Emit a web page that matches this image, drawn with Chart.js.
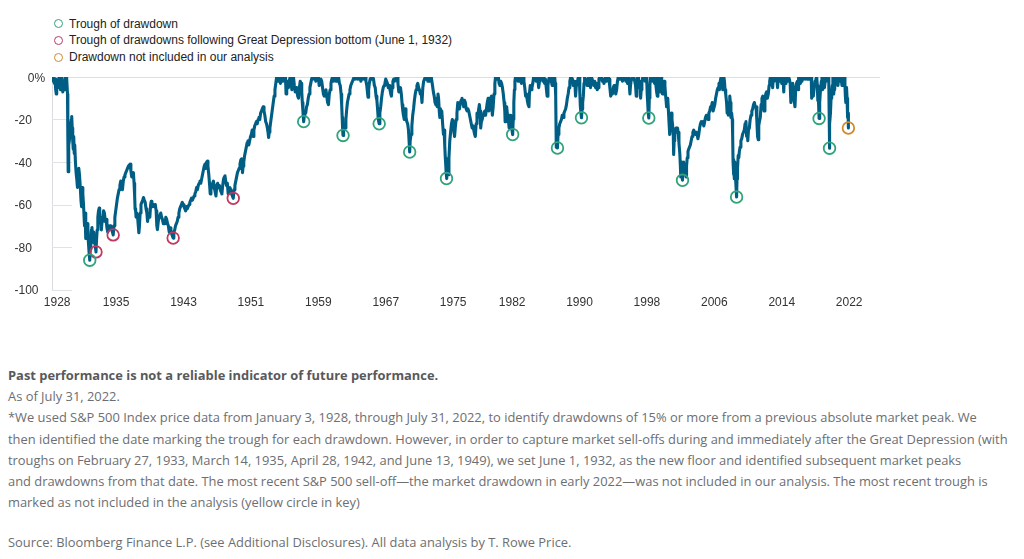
<!DOCTYPE html>
<html><head><meta charset="utf-8">
<script src="https://cdn.jsdelivr.net/npm/chart.js@4.4.1/dist/chart.umd.min.js"></script>
<style>
html,body{margin:0;padding:0;background:#fff;width:1024px;height:559px;overflow:hidden;}
#legend{position:absolute;left:54px;top:15.5px;font:12px 'Liberation Sans',Arial,sans-serif;color:#222;}
.row{height:16.8px;line-height:16.8px;display:flex;align-items:center;white-space:nowrap;}
.dot{width:7px;height:7px;border:1.7px solid;border-radius:50%;margin-right:6px;box-sizing:content-box;}
#wrap{position:absolute;left:0;top:60px;width:900px;height:260px;}
#notes{position:absolute;left:8px;top:365px;font:12.9px 'Open Sans',sans-serif;color:#6d6e71;line-height:21.2px;white-space:nowrap;}
#notes b{color:#58595b;}
#notes p{margin:0;}
#notes p.src{margin-top:19px;}
</style></head>
<body>
<div id="legend">
  <div class="row"><span class="dot" style="border-color:#2fa37c"></span>Trough of drawdown</div>
  <div class="row"><span class="dot" style="border-color:#be3a5f"></span>Trough of drawdowns following Great Depression bottom (June 1, 1932)</div>
  <div class="row"><span class="dot" style="border-color:#d08a2c"></span>Drawdown not included in our analysis</div>
</div>
<div id="wrap"><canvas id="c"></canvas></div>
<div id="notes">
<p><b>Past performance is not a reliable indicator of future performance.</b><br>
As of July 31, 2022.<br>
*We used S&amp;P 500 Index price data from January 3, 1928, through July 31, 2022, to identify drawdowns of 15% or more from a previous absolute market peak. We<br>
then identified the date marking the trough for each drawdown. However, in order to capture market sell-offs during and immediately after the Great Depression (with<br>
troughs on February 27, 1933, March 14, 1935, April 28, 1942, and June 13, 1949), we set June 1, 1932, as the new floor and identified subsequent market peaks<br>
and drawdowns from that date. The most recent S&amp;P 500 sell-off—the market drawdown in early 2022—was not included in our analysis. The most recent trough is<br>
marked as not included in the analysis (yellow circle in key)</p>
<p class="src">Source: Bloomberg Finance L.P. (see Additional Disclosures). All data analysis by T. Rowe Price.</p>
</div>
<script>
// ---- Data: S&P 500 drawdown from previous peak (%), [decimal year, value] ----
const era1928to1935 = [[1928.00,0],[1928.08,-2],[1928.15,0],[1928.22,-3],[1928.30,-1],[1928.38,-6],[1928.45,-8],[1928.50,-4],[1928.58,-2],[1928.65,-5],[1928.72,-1],[1928.80,0],[1928.88,-3],[1928.95,-6],[1929.00,-1],[1929.08,0],[1929.15,-4],[1929.22,-7],[1929.30,-3],[1929.38,-6],[1929.45,-2],[1929.52,0],[1929.60,-1],[1929.67,0],[1929.72,0],[1929.78,-8],[1929.82,-28],[1929.86,-44.6],[1929.90,-35],[1929.95,-32],[1930.00,-30],[1930.08,-26],[1930.16,-22],[1930.24,-20],[1930.28,-18.6],[1930.34,-24],[1930.40,-30],[1930.46,-34],[1930.52,-28],[1930.58,-36],[1930.64,-32],[1930.72,-40],[1930.80,-45],[1930.88,-48],[1930.96,-52],[1931.04,-46],[1931.12,-43],[1931.20,-46],[1931.30,-52],[1931.38,-58],[1931.45,-61],[1931.52,-52],[1931.60,-55],[1931.68,-60],[1931.75,-66],[1931.80,-70],[1931.86,-64],[1931.92,-68],[1931.97,-76],[1932.04,-71],[1932.12,-69],[1932.20,-74],[1932.28,-79],[1932.35,-83],[1932.42,-86.2],[1932.48,-81],[1932.55,-75],[1932.62,-72],[1932.68,-70.8],[1932.75,-75],[1932.82,-73],[1932.90,-78],[1932.98,-76],[1933.06,-79],[1933.16,-82.3],[1933.22,-77],[1933.30,-72],[1933.38,-66],[1933.46,-63],[1933.54,-61.7],[1933.60,-67],[1933.70,-66],[1933.80,-72],[1933.88,-68],[1933.96,-67],[1934.06,-63],[1934.16,-64],[1934.26,-68],[1934.36,-67],[1934.46,-71],[1934.56,-73],[1934.64,-70],[1934.74,-72],[1934.84,-70],[1934.94,-71],[1935.04,-72],[1935.12,-73],[1935.20,-74.3]];
const era1935to1949 = [[1935.30,-70],[1935.40,-66],[1935.50,-63],[1935.60,-60],[1935.70,-57],[1935.80,-55],[1935.90,-53],[1936.00,-51],[1936.10,-49],[1936.20,-50],[1936.30,-53],[1936.40,-49],[1936.50,-47],[1936.60,-46],[1936.70,-45],[1936.80,-44],[1936.90,-43],[1937.00,-42],[1937.10,-41.5],[1937.20,-41],[1937.30,-44],[1937.40,-47],[1937.50,-46],[1937.60,-45],[1937.68,-50],[1937.75,-56],[1937.80,-62],[1937.87,-63],[1937.92,-66],[1938.00,-64],[1938.10,-66],[1938.18,-70],[1938.25,-73.3],[1938.32,-70],[1938.40,-64],[1938.50,-60],[1938.60,-59],[1938.70,-58],[1938.80,-56.7],[1938.90,-58],[1939.00,-59],[1939.10,-62],[1939.20,-64],[1939.28,-68],[1939.35,-66],[1939.45,-64],[1939.55,-66],[1939.65,-60],[1939.72,-58.5],[1939.80,-60],[1939.90,-61],[1940.00,-60],[1940.10,-61],[1940.20,-60],[1940.30,-63],[1940.38,-70],[1940.45,-71.8],[1940.55,-68],[1940.65,-66],[1940.75,-65],[1940.85,-64],[1940.95,-66],[1941.05,-67],[1941.15,-69],[1941.25,-68],[1941.35,-69],[1941.45,-66],[1941.55,-67],[1941.65,-69],[1941.75,-70],[1941.85,-73],[1941.95,-71],[1942.05,-72],[1942.15,-74],[1942.25,-75],[1942.32,-75.8],[1942.40,-73],[1942.50,-72],[1942.60,-70],[1942.70,-69],[1942.80,-68],[1942.90,-66],[1943.00,-64],[1943.10,-62],[1943.20,-61],[1943.30,-60],[1943.40,-59],[1943.50,-60],[1943.60,-61],[1943.70,-62],[1943.80,-63],[1943.90,-61],[1944.00,-62],[1944.10,-61],[1944.20,-60],[1944.30,-59],[1944.40,-58],[1944.50,-57],[1944.60,-58],[1944.70,-57],[1944.80,-56],[1944.90,-55],[1945.00,-54],[1945.10,-52],[1945.20,-53],[1945.30,-51],[1945.40,-50],[1945.50,-49],[1945.60,-50],[1945.70,-48],[1945.80,-46],[1945.90,-44],[1946.00,-42],[1946.10,-41],[1946.20,-43],[1946.30,-40],[1946.38,-39.6],[1946.45,-42],[1946.55,-46],[1946.65,-51],[1946.72,-55],[1946.80,-53],[1946.90,-52],[1947.00,-50],[1947.10,-49],[1947.20,-52],[1947.30,-54],[1947.40,-56],[1947.50,-51],[1947.60,-50],[1947.70,-52],[1947.80,-51],[1947.90,-53],[1948.00,-54],[1948.10,-55],[1948.20,-51],[1948.30,-48],[1948.40,-47],[1948.47,-46.5],[1948.55,-49],[1948.65,-51],[1948.75,-50],[1948.85,-55],[1948.95,-53],[1949.05,-52],[1949.15,-53],[1949.25,-55],[1949.35,-56],[1949.45,-57.1]];
const era1949to1957 = [[1949.55,-53],[1949.65,-51],[1949.75,-49],[1949.85,-47],[1949.95,-45],[1950.05,-44],[1950.15,-43],[1950.25,-41],[1950.35,-39],[1950.45,-38.5],[1950.55,-45],[1950.62,-42],[1950.70,-40],[1950.80,-37],[1950.90,-35],[1951.00,-33],[1951.10,-31],[1951.20,-30],[1951.30,-32],[1951.40,-30],[1951.50,-28],[1951.60,-27],[1951.70,-25],[1951.80,-28],[1951.90,-25],[1952.00,-23],[1952.10,-22],[1952.20,-21],[1952.30,-22],[1952.40,-20],[1952.50,-19],[1952.60,-20],[1952.70,-17],[1952.80,-16],[1952.90,-15],[1953.00,-14],[1953.10,-16],[1953.20,-18],[1953.30,-21],[1953.40,-22],[1953.50,-24],[1953.58,-26],[1953.65,-28.5],[1953.72,-26],[1953.80,-24],[1953.90,-21],[1954.00,-18],[1954.10,-15],[1954.20,-12],[1954.30,-9],[1954.40,-6],[1954.50,-3],[1954.60,0],[1954.68,-2],[1954.75,0],[1954.85,-1],[1954.95,0],[1955.05,-3],[1955.15,-1],[1955.25,0],[1955.35,-2],[1955.45,0],[1955.55,-1],[1955.65,0],[1955.72,-8],[1955.80,-4],[1955.90,-2],[1956.00,-5],[1956.10,-2],[1956.20,0],[1956.30,-1],[1956.40,-6],[1956.50,-2],[1956.60,0],[1956.70,-4],[1956.80,-7],[1956.90,-5],[1957.00,-6],[1957.10,-9],[1957.20,-10],[1957.30,-5],[1957.40,-2],[1957.50,-3],[1957.58,-7],[1957.65,-12],[1957.72,-16],[1957.77,-19],[1957.81,-21],[1957.88,-18],[1957.95,-16]];
const era1958to1974 = [[1958.05,-17],[1958.15,-14],[1958.25,-13],[1958.35,-10],[1958.45,-8],[1958.55,-5],[1958.65,-3],[1958.75,-1],[1958.85,0],[1958.95,0],[1959.05,-1],[1959.15,0],[1959.25,-2],[1959.35,0],[1959.45,-1],[1959.55,0],[1959.65,-4],[1959.75,-3],[1959.85,-1],[1959.95,-2],[1960.05,-5],[1960.15,-8],[1960.25,-9],[1960.35,-7],[1960.45,-6],[1960.55,-9],[1960.65,-12],[1960.75,-13],[1960.85,-8],[1960.95,-6],[1961.05,-3],[1961.15,-1],[1961.25,0],[1961.35,-2],[1961.45,-1],[1961.55,0],[1961.65,-2],[1961.75,-1],[1961.85,0],[1961.95,0],[1962.05,-3],[1962.15,-4],[1962.25,-8],[1962.32,-13],[1962.38,-19],[1962.44,-25],[1962.48,-27.5],[1962.55,-22],[1962.65,-23],[1962.75,-24],[1962.82,-20],[1962.90,-16],[1963.00,-12],[1963.10,-10],[1963.20,-8],[1963.30,-6],[1963.40,-4],[1963.50,-3],[1963.60,-2],[1963.70,-1],[1963.80,0],[1963.90,-1],[1964.00,0],[1964.10,0],[1964.20,-1],[1964.30,0],[1964.40,-1],[1964.50,0],[1964.60,-2],[1964.70,0],[1964.80,-1],[1964.90,0],[1965.00,-1],[1965.10,0],[1965.20,-2],[1965.30,-4],[1965.40,-8],[1965.45,-9.5],[1965.52,-6],[1965.60,-3],[1965.70,-1],[1965.80,0],[1965.90,-1],[1966.00,0],[1966.10,-1],[1966.20,-4],[1966.30,-5],[1966.40,-9],[1966.50,-11],[1966.58,-15],[1966.65,-19],[1966.72,-21],[1966.77,-22],[1966.85,-17],[1966.95,-14],[1967.05,-10],[1967.15,-7],[1967.25,-5],[1967.35,-4],[1967.45,-3],[1967.55,-1],[1967.65,-2],[1967.75,-3],[1967.85,-5],[1967.95,-4],[1968.05,-6],[1968.15,-8],[1968.22,-9],[1968.30,-5],[1968.40,-2],[1968.50,-1],[1968.60,-2],[1968.70,-1],[1968.80,0],[1968.90,0],[1969.00,-3],[1969.10,-7],[1969.20,-6],[1969.30,-5],[1969.40,-8],[1969.50,-13],[1969.58,-16],[1969.65,-18],[1969.75,-20],[1969.85,-15],[1969.95,-19],[1970.05,-21],[1970.15,-22],[1970.25,-25],[1970.32,-30],[1970.39,-35.3],[1970.45,-30],[1970.55,-27],[1970.65,-23],[1970.75,-18],[1970.85,-15],[1970.95,-11],[1971.05,-8],[1971.15,-6],[1971.25,-4],[1971.35,-3],[1971.45,-5],[1971.55,-6],[1971.65,-8],[1971.75,-7],[1971.85,-12],[1971.95,-5],[1972.05,-2],[1972.15,-1],[1972.25,0],[1972.35,-1],[1972.45,0],[1972.55,-2],[1972.65,-1],[1972.75,-2],[1972.85,0],[1972.95,0],[1973.03,0],[1973.10,-4],[1973.20,-7],[1973.30,-9],[1973.40,-12],[1973.50,-13],[1973.58,-10],[1973.65,-14],[1973.75,-8],[1973.82,-10],[1973.90,-16],[1973.97,-19],[1974.05,-15],[1974.12,-18],[1974.20,-16],[1974.30,-22],[1974.40,-27],[1974.48,-25],[1974.55,-32],[1974.62,-38],[1974.68,-42],[1974.72,-45],[1974.76,-47.8],[1974.82,-40],[1974.88,-43],[1974.95,-46]];
const era1975to1990 = [[1975.05,-38],[1975.15,-30],[1975.25,-26],[1975.35,-22],[1975.45,-20],[1975.55,-21],[1975.65,-26],[1975.72,-28],[1975.80,-24],[1975.90,-20],[1976.00,-17],[1976.10,-12],[1976.20,-13],[1976.30,-15],[1976.40,-12],[1976.50,-11],[1976.60,-10],[1976.70,-12],[1976.80,-14],[1976.90,-11],[1977.00,-12],[1977.10,-15],[1977.20,-16],[1977.30,-15],[1977.40,-16],[1977.50,-18],[1977.60,-20],[1977.70,-22],[1977.80,-24],[1977.90,-23],[1978.00,-25],[1978.10,-27],[1978.18,-28],[1978.28,-22],[1978.38,-17],[1978.48,-19],[1978.58,-15],[1978.66,-13],[1978.74,-16],[1978.82,-24],[1978.90,-21],[1979.00,-20],[1979.10,-18],[1979.20,-17],[1979.30,-16],[1979.40,-18],[1979.50,-15],[1979.60,-12],[1979.70,-10],[1979.80,-16],[1979.90,-14],[1980.00,-10],[1980.10,-9],[1980.20,-18],[1980.30,-14],[1980.40,-8],[1980.50,-3],[1980.58,0],[1980.65,-1],[1980.75,0],[1980.85,0],[1980.92,0],[1981.00,-3],[1981.10,-4],[1981.20,-2],[1981.30,-3],[1981.40,-5],[1981.50,-8],[1981.60,-12],[1981.68,-16],[1981.72,-21],[1981.80,-16],[1981.90,-14],[1982.00,-18],[1982.10,-20],[1982.20,-24],[1982.30,-18],[1982.40,-19],[1982.50,-24],[1982.61,-27.1],[1982.68,-20],[1982.75,-12],[1982.82,-6],[1982.88,-2],[1982.95,0],[1983.05,-1],[1983.15,0],[1983.25,-2],[1983.35,0],[1983.45,-1],[1983.55,0],[1983.65,-3],[1983.75,-1],[1983.85,0],[1983.95,-2],[1984.05,-5],[1984.15,-9],[1984.25,-8],[1984.35,-11],[1984.45,-13],[1984.55,-14],[1984.60,-8],[1984.70,-4],[1984.80,-6],[1984.90,-5],[1985.00,-3],[1985.10,0],[1985.20,-1],[1985.30,0],[1985.40,-2],[1985.50,0],[1985.60,-1],[1985.70,-5],[1985.80,-2],[1985.90,0],[1986.00,-1],[1986.10,0],[1986.20,-2],[1986.30,0],[1986.40,-3],[1986.50,-1],[1986.60,-5],[1986.70,-9],[1986.80,-4],[1986.90,-1],[1987.00,0],[1987.10,0],[1987.20,-2],[1987.30,-4],[1987.40,-1],[1987.50,0],[1987.60,0],[1987.66,-3],[1987.72,-9],[1987.79,-33],[1987.83,-26],[1987.88,-30],[1987.93,-33.4],[1988.00,-27],[1988.10,-24],[1988.20,-22],[1988.30,-21],[1988.40,-20],[1988.50,-18],[1988.60,-19],[1988.70,-17],[1988.80,-16],[1988.90,-15],[1989.00,-13],[1989.10,-10],[1989.20,-8],[1989.30,-5],[1989.40,-2],[1989.50,0],[1989.60,0],[1989.70,-1],[1989.80,-4],[1989.90,-2],[1990.00,-3],[1990.08,-9],[1990.15,-5],[1990.25,-2],[1990.35,-1],[1990.45,0],[1990.52,0],[1990.58,-7],[1990.65,-14],[1990.72,-17],[1990.78,-19.2],[1990.85,-15],[1990.92,-12]];
const era1991to2013 = [[1991.00,-9],[1991.08,-3],[1991.15,0],[1991.25,-2],[1991.35,-1],[1991.45,-4],[1991.55,-2],[1991.65,0],[1991.75,-2],[1991.85,-5],[1991.95,0],[1992.05,-1],[1992.15,-3],[1992.25,-4],[1992.35,-2],[1992.45,-5],[1992.55,-3],[1992.65,-6],[1992.75,-5],[1992.85,-1],[1992.95,0],[1993.05,-1],[1993.15,0],[1993.25,-2],[1993.35,-1],[1993.45,-3],[1993.55,-1],[1993.65,0],[1993.75,-2],[1993.85,-1],[1993.95,0],[1994.05,-1],[1994.15,-5],[1994.25,-9],[1994.35,-7],[1994.45,-8],[1994.55,-5],[1994.65,-4],[1994.75,-6],[1994.85,-8],[1994.95,-6],[1995.05,-2],[1995.15,0],[1995.25,-1],[1995.35,0],[1995.45,-1],[1995.55,0],[1995.65,-2],[1995.75,0],[1995.85,-1],[1995.95,0],[1996.05,-2],[1996.15,-1],[1996.25,-3],[1996.35,0],[1996.45,-3],[1996.53,-8],[1996.60,-4],[1996.70,-1],[1996.80,0],[1996.90,-1],[1997.00,0],[1997.10,-2],[1997.20,-4],[1997.28,-9],[1997.35,-3],[1997.45,0],[1997.55,0],[1997.62,-5],[1997.70,-2],[1997.80,-10],[1997.87,-6],[1997.95,-3],[1998.05,0],[1998.15,-1],[1998.25,0],[1998.35,-2],[1998.45,0],[1998.52,-1],[1998.58,-8],[1998.65,-13],[1998.70,-17],[1998.77,-19.3],[1998.83,-10],[1998.90,-4],[1998.97,0],[1999.05,-1],[1999.15,0],[1999.25,-2],[1999.35,0],[1999.45,-3],[1999.55,0],[1999.62,-4],[1999.70,-7],[1999.78,-9],[1999.85,-3],[1999.95,0],[2000.05,-2],[2000.12,-7],[2000.18,-4],[2000.22,0],[2000.30,-3],[2000.38,-8],[2000.45,-5],[2000.52,-3],[2000.60,-2],[2000.68,-4],[2000.75,-8],[2000.82,-11],[2000.88,-14],[2000.95,-12],[2001.02,-10],[2001.10,-16],[2001.18,-22],[2001.25,-27],[2001.30,-24],[2001.38,-18],[2001.45,-17],[2001.52,-20],[2001.60,-23],[2001.68,-28],[2001.72,-36.5],[2001.78,-30],[2001.85,-27],[2001.92,-25],[2002.00,-24],[2002.10,-26],[2002.18,-24],[2002.25,-26],[2002.35,-31],[2002.45,-36],[2002.52,-42],[2002.56,-47],[2002.62,-40],[2002.70,-43],[2002.77,-48.6],[2002.83,-42],[2002.90,-40],[2002.97,-44],[2003.05,-43],[2003.12,-45],[2003.19,-47],[2003.25,-42],[2003.33,-38],[2003.42,-35],[2003.50,-34],[2003.60,-33],[2003.70,-32],[2003.80,-30],[2003.90,-28],[2004.00,-26],[2004.10,-25],[2004.20,-26],[2004.30,-27],[2004.40,-26],[2004.50,-27],[2004.60,-29],[2004.70,-27],[2004.80,-24],[2004.90,-22],[2005.00,-21],[2005.10,-22],[2005.20,-21],[2005.30,-23],[2005.40,-21],[2005.50,-19],[2005.60,-18],[2005.70,-19],[2005.80,-20],[2005.90,-17],[2006.00,-16],[2006.10,-14],[2006.20,-14],[2006.30,-12],[2006.40,-16],[2006.50,-16],[2006.60,-13],[2006.70,-10],[2006.80,-8],[2006.90,-6],[2007.00,-5],[2007.10,-3],[2007.15,-6],[2007.25,-2],[2007.35,0],[2007.45,0],[2007.55,-6],[2007.62,-2],[2007.68,0],[2007.75,-2],[2007.82,-6],[2007.90,-8],[2008.00,-12],[2008.07,-17],[2008.15,-15],[2008.20,-18],[2008.30,-12],[2008.38,-9],[2008.45,-12],[2008.52,-19],[2008.60,-17],[2008.68,-20],[2008.72,-27],[2008.77,-40],[2008.82,-46],[2008.87,-39],[2008.92,-48],[2008.97,-40],[2009.03,-43],[2009.10,-50],[2009.19,-56.5],[2009.24,-48],[2009.30,-43],[2009.38,-37],[2009.45,-38],[2009.52,-35],[2009.60,-33],[2009.70,-30],[2009.80,-29],[2009.90,-27],[2010.00,-26],[2010.10,-25],[2010.20,-22],[2010.30,-21],[2010.38,-28],[2010.45,-26],[2010.52,-30],[2010.60,-25],[2010.70,-24],[2010.80,-20],[2010.90,-18],[2011.00,-16],[2011.10,-15],[2011.20,-13],[2011.30,-12],[2011.40,-14],[2011.50,-14],[2011.60,-21],[2011.68,-28],[2011.76,-29.5],[2011.82,-23],[2011.90,-21],[2012.00,-19],[2012.10,-13],[2012.20,-10],[2012.30,-9],[2012.40,-14],[2012.45,-16],[2012.55,-11],[2012.65,-8],[2012.75,-7],[2012.85,-10],[2012.95,-8],[2013.05,-4],[2013.12,-2],[2013.20,0]];
const era2013to2022 = [[2013.30,-1],[2013.40,0],[2013.47,-5],[2013.55,0],[2013.65,-2],[2013.75,0],[2013.85,-1],[2013.95,0],[2014.05,-5],[2014.15,0],[2014.25,-2],[2014.35,0],[2014.45,-1],[2014.55,-3],[2014.65,0],[2014.72,-2],[2014.79,-7],[2014.85,0],[2014.95,-3],[2015.05,-1],[2015.15,0],[2015.25,-2],[2015.35,0],[2015.45,-1],[2015.55,-3],[2015.63,-12],[2015.70,-10],[2015.78,-6],[2015.85,-3],[2015.95,-7],[2016.05,-12],[2016.12,-14],[2016.20,-6],[2016.30,-3],[2016.40,-2],[2016.48,-6],[2016.55,0],[2016.65,-1],[2016.75,-3],[2016.85,-2],[2016.95,0],[2017.05,0],[2017.15,-1],[2017.25,0],[2017.35,-1],[2017.45,0],[2017.55,-1],[2017.65,0],[2017.75,0],[2017.85,-1],[2017.95,0],[2018.05,0],[2018.10,-10],[2018.20,-8],[2018.30,-9],[2018.40,-5],[2018.50,-2],[2018.60,-1],[2018.70,0],[2018.77,-4],[2018.83,-11],[2018.90,-10],[2018.98,-19.5],[2019.05,-12],[2019.15,-6],[2019.25,-2],[2019.32,0],[2019.40,-6],[2019.48,-1],[2019.55,0],[2019.62,-5],[2019.70,-2],[2019.80,0],[2019.90,0],[2020.00,0],[2020.08,-2],[2020.13,0],[2020.16,-12],[2020.19,-25],[2020.22,-33.5],[2020.27,-22],[2020.33,-17],[2020.40,-10],[2020.48,-7],[2020.55,-4],[2020.62,0],[2020.68,-1],[2020.72,-8],[2020.78,-4],[2020.83,-6],[2020.88,0],[2020.95,-1],[2021.05,-2],[2021.15,0],[2021.22,-4],[2021.30,0],[2021.40,-2],[2021.50,0],[2021.60,-1],[2021.70,-4],[2021.75,0],[2021.85,-1],[2021.92,-4],[2022.00,0],[2022.05,-4],[2022.10,-9],[2022.15,-12],[2022.20,-8],[2022.24,-5],[2022.30,-10],[2022.35,-16],[2022.38,-19],[2022.42,-17],[2022.46,-24]];

// Trough markers
const troughYears  = [1932.42, 1957.81, 1962.48, 1966.77, 1970.39, 1974.76, 1982.61, 1987.93, 1990.78, 1998.77, 2002.77, 2009.19, 2018.98, 2020.22];
const troughValues = [-86.2, -21, -27.5, -22, -35.3, -47.8, -27.1, -33.4, -19.2, -19.3, -48.6, -56.5, -19.5, -33.5];
const depressionYears  = [1933.16, 1935.20, 1942.32, 1949.45];
const depressionValues = [-82.3, -74.3, -75.8, -57.1];
const excludedYears  = [2022.46];
const excludedValues = [-24];

// Axis ticks
const xTickLabels = ['1928','1935','1943','1951','1959','1967','1975','1982','1990','1998','2006','2014','2022'];
const yTickValues = [0, -20, -40, -60, -80, -100];
const yTickLabels = ['    0%', '-20', '-40', '-60', '-80', '-100'];

// ---- Styling ----
const BLUE = '#005e85', GREEN = '#2fa37c', CRIMSON = '#be3a5f', ORANGE = '#d08a2c';
Chart.defaults.font.family = "'Liberation Sans', Arial, sans-serif";
Chart.defaults.font.size = 12;
Chart.defaults.color = '#333';

const lineData = [].concat(era1928to1935, era1935to1949, era1949to1957, era1958to1974, era1975to1990, era1991to2013, era2013to2022)
  .map(p => ({x: p[0], y: p[1]}));
const pts = (xs, ys) => xs.map((x, i) => ({x, y: ys[i]}));
const markerStyle = c => ({type: 'scatter', showLine: false, pointStyle: 'circle', pointRadius: 5.8,
  pointBorderWidth: 1.8, borderColor: c, pointBorderColor: c, backgroundColor: 'rgba(0,0,0,0)',
  pointBackgroundColor: 'rgba(0,0,0,0)', order: 0});

const stubPlugin = {
  id: 'stubs',
  beforeDatasetsDraw(chart) {
    const {ctx, chartArea, scales: {y}} = chart;
    ctx.save();
    ctx.strokeStyle = '#dfe3e8';
    ctx.lineWidth = 1;
    yTickValues.forEach(v => {
      if (v === 0) return;
      const py = Math.round(y.getPixelForValue(v)) + 0.5;
      ctx.beginPath();
      ctx.moveTo(chartArea.left, py);
      ctx.lineTo(chartArea.left + 20, py);
      ctx.stroke();
    });
    ctx.restore();
  }
};

new Chart(document.getElementById('c'), {
  type: 'line',
  data: {
    datasets: [
      Object.assign({label: 'Trough of drawdown', data: pts(troughYears, troughValues)}, markerStyle(GREEN)),
      Object.assign({label: 'Trough of drawdowns following Great Depression bottom (June 1, 1932)', data: pts(depressionYears, depressionValues)}, markerStyle(CRIMSON)),
      Object.assign({label: 'Drawdown not included in our analysis', data: pts(excludedYears, excludedValues)}, markerStyle(ORANGE)),
      {label: 'S&P 500 drawdown', data: lineData, borderColor: BLUE, borderWidth: 3.1, pointRadius: 0,
       tension: 0, fill: false, borderJoinStyle: 'round', order: 1}
    ]
  },
  options: {
    animation: false, responsive: true, maintainAspectRatio: false, events: [],
    layout: {padding: {top: 17, right: 20, left: 14.5, bottom: 0}},
    plugins: {legend: {display: false}, tooltip: {enabled: false}},
    scales: {
      x: {
        type: 'linear', min: 1927.94, max: 2026.21,
        grid: {display: false, drawTicks: false}, border: {display: false},
        afterBuildTicks: s => { s.ticks = xTickLabels.map(l => ({value: Number(l) + 0.55})); },
        afterFit: s => { s.height = 30.5; },
        ticks: {autoSkip: false, maxRotation: 0, padding: 6, color: '#333', callback: (v, i) => xTickLabels[i]}
      },
      y: {
        min: -100, max: 0,
        afterBuildTicks: s => { s.ticks = yTickValues.map(v => ({value: v})); },
        afterFit: s => { s.width = 37.5; },
        grid: {drawTicks: false, color: c => (c.tick && c.tick.value === 0) ? '#dedede' : 'rgba(0,0,0,0)'},
        border: {display: true, color: '#d9dde2'},
        ticks: {crossAlign: 'far', padding: 0, labelOffset: 1.5, color: '#333', callback: (v, i) => yTickLabels[i]}
      }
    }
  },
  plugins: [stubPlugin]
});
</script>
</body></html>
